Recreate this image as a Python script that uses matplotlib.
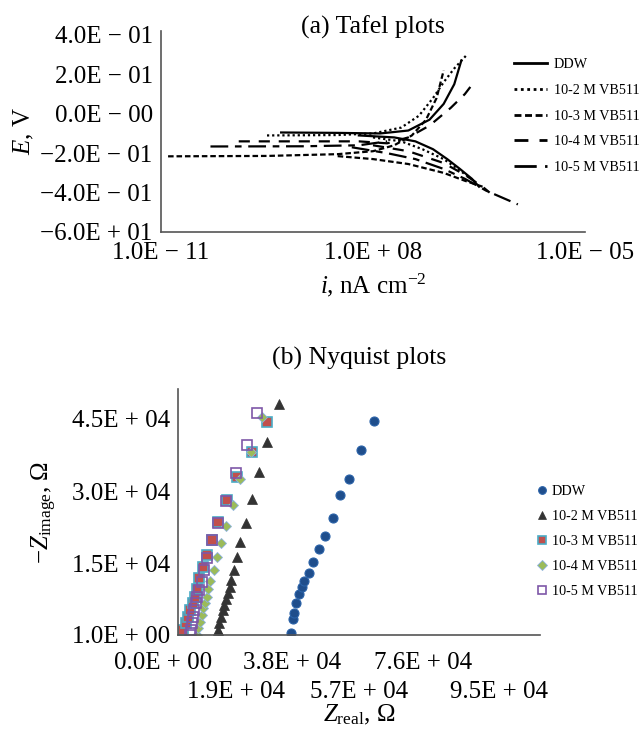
import numpy as np
import matplotlib
matplotlib.use("Agg")
import matplotlib.pyplot as plt
from matplotlib.lines import Line2D
from matplotlib.transforms import ScaledTranslation

plt.rcParams['font.family'] = ['Liberation Serif', 'DejaVu Serif']
plt.rcParams['mathtext.fontset'] = 'custom'
plt.rcParams['mathtext.rm'] = 'Liberation Serif'
plt.rcParams['mathtext.it'] = 'Liberation Serif:italic'

# ---------------- (a) Tafel data: log10(i) and E (V) ----------------
series_names = ["DDW", "10-2 M VB511", "10-3 M VB511", "10-4 M VB511", "10-5 M VB511"]

ddw_an_logi = [-9.3, -8.5, -7.9, -7.5, -7.2, -7.0, -6.85, -6.75]
ddw_an_E = [-0.095, -0.097, -0.100, -0.085, -0.030, 0.050, 0.150, 0.270]
ddw_ca_logi = [-8.2, -7.7, -7.4, -7.15, -6.95, -6.77, -6.6, -6.5]
ddw_ca_E = [-0.110, -0.120, -0.140, -0.180, -0.230, -0.280, -0.330, -0.370]

m2_an_logi = [-9.5, -8.5, -8.0, -7.6, -7.35, -7.15, -7.0, -6.85, -6.67]
m2_an_E = [-0.110, -0.108, -0.100, -0.070, -0.010, 0.080, 0.160, 0.230, 0.300]
m2_ca_logi = [-8.0, -7.6, -7.3, -7.0, -6.8, -6.65]
m2_ca_E = [-0.120, -0.140, -0.180, -0.230, -0.280, -0.320]

m3_an_logi = [-10.9, -9.5, -8.5, -8.0, -7.7, -7.45, -7.25, -7.1, -7.0]
m3_an_E = [-0.216, -0.214, -0.205, -0.190, -0.160, -0.110, -0.030, 0.080, 0.220]
m3_ca_logi = [-8.5, -8.0, -7.5, -7.0, -6.7, -6.45]
m3_ca_E = [-0.215, -0.230, -0.255, -0.300, -0.340, -0.370]

m4_an_logi = [-9.9, -9.0, -8.2, -7.8, -7.5, -7.2, -6.9, -6.7, -6.55]
m4_an_E = [-0.140, -0.140, -0.140, -0.150, -0.120, -0.060, 0.030, 0.100, 0.170]
m4_ca_logi = [-8.0, -7.5, -7.0, -6.7, -6.45, -6.35]
m4_ca_E = [-0.160, -0.190, -0.250, -0.310, -0.370, -0.400]

m5_an_logi = [-10.3, -9.0, -8.2, -7.8]
m5_an_E = [-0.166, -0.165, -0.160, -0.140]
m5_ca_logi = [-8.3, -7.8, -7.4, -7.0, -6.7, -6.4, -5.95]
m5_ca_E = [-0.170, -0.200, -0.230, -0.280, -0.330, -0.390, -0.460]

tafel_xticks = [1e-11, 1e-8, 1e-5]
tafel_xticklabels = ["1.0E \u2212 11", "1.0E + 08", "1.0E \u2212 05"]
tafel_yticks = [0.4, 0.2, 0.0, -0.2, -0.4, -0.6]
tafel_yticklabels = ["4.0E \u2212 01", "2.0E \u2212 01", "0.0E \u2212 00",
                     "\u22122.0E \u2212 01", "\u22124.0E \u2212 01", "\u22126.0E + 01"]

# ---------------- (b) Nyquist data: Z_real, -Z_imag (Ohm) ----------------
ddw_zr = [33240, 33830, 34220, 34810, 35800, 36490, 37170, 38740, 39920, 41690,
          43370, 45630, 47790, 50540, 53890, 57920]
ddw_zi = [480, 3260, 4650, 6730, 8540, 10060, 11310, 12980, 15270, 17850,
          20620, 24310, 29160, 32500, 38540, 44640]

m2_zr = [12390, 11900, 12190, 12590, 13180, 13570, 14160, 14750, 15340, 15640,
         16620, 17310, 18290, 19960, 21930, 23990, 26160, 29890]
m2_zi = [100, 1040, 2430, 3820, 5210, 6250, 7430, 8680, 10060, 11460,
         13540, 16310, 19440, 23400, 28330, 34020, 40270, 48120]

m3_zr = [1090, 1570, 2360, 3050, 3540, 4330, 5020, 5510, 6300, 7280, 8650,
         10030, 11900, 14360, 17500, 21730, 26160]
m3_zi = [100, 1040, 2430, 3820, 5210, 6600, 7990, 9510, 11810, 14240, 16670,
         19790, 23610, 28120, 32850, 38190, 44300]

m4_zr = [5510, 6000, 6490, 6990, 7480, 7970, 8460, 8950, 9440, 10620, 11410,
         12590, 14160, 16320, 18290, 21440, 24680]
m4_zi = [100, 1390, 2780, 4170, 5560, 6600, 7990, 9510, 11310, 13540, 16310,
         19230, 22780, 27080, 32430, 38190, 45480]

m5_zr = [3540, 3740, 4040, 4330, 4720, 5310, 5700, 6300, 6990, 7670, 8650,
         10030, 11900, 14160, 17110, 20260, 23210]
m5_zi = [100, 1040, 2430, 3820, 5210, 6600, 7990, 9370, 11100, 13540, 15970,
         19790, 23400, 27910, 33810, 39580, 46310]

nyq_yticks = [1, 15000, 30000, 45000]
nyq_yticklabels = ["1.0E + 00", "1.5E + 04", "3.0E + 04", "4.5E + 04"]
# tick positions where the (staggered) labels sit in the source chart
nyq_xticks_row1 = [0, 33600, 72300]
nyq_xticklabels_row1 = ["0.0E + 00", "3.8E + 04", "7.6E + 04"]
nyq_xticks_row2 = [17100, 53400, 94700]
nyq_xticklabels_row2 = ["1.9E + 04", "5.7E + 04", "9.5E + 04"]

# ---------------- figure ----------------
W, H = 644, 729
fig = plt.figure(figsize=(W / 100, H / 100), dpi=100)

def fr(x0, y0, x1, y1):
    return [x0 / W, 1 - y1 / H, (x1 - x0) / W, (y1 - y0) / H]

spine_col = "#555555"
tick_fs = 18
title_fs = 18.5
leg_fs = 10.2

# ---- (a)
ax1 = fig.add_axes(fr(161, 31, 585, 232))
lw = 1.6
styles = [
    dict(ls="-"),
    dict(ls=(0, (1, 1.3))),
    dict(ls=(0, (2.5, 1.3))),
    dict(ls=(0, (5, 4))),
    dict(ls=(0, (8, 3, 3, 3))),
]
tafel = [
    (ddw_an_logi, ddw_an_E, ddw_ca_logi, ddw_ca_E),
    (m2_an_logi, m2_an_E, m2_ca_logi, m2_ca_E),
    (m3_an_logi, m3_an_E, m3_ca_logi, m3_ca_E),
    (m4_an_logi, m4_an_E, m4_ca_logi, m4_ca_E),
    (m5_an_logi, m5_an_E, m5_ca_logi, m5_ca_E),
]
handles = []
for name, st, (al, ae, cl, ce) in zip(series_names, styles, tafel):
    ax1.plot(10 ** np.array(al), ae, color="black", lw=lw, **st)
    ax1.plot(10 ** np.array(cl), ce, color="black", lw=lw, **st)
    handles.append(Line2D([], [], color="black", lw=lw + 0.4, **st))

ax1.set_xscale("log")
ax1.set_xlim(1e-11, 1e-5)
ax1.set_ylim(-0.6, 0.42)
ax1.set_xticks(tafel_xticks)
ax1.set_xticklabels(tafel_xticklabels)
ax1.minorticks_off()
ax1.set_yticks(tafel_yticks)
ax1.set_yticklabels(tafel_yticklabels)
ax1.tick_params(length=0, labelsize=tick_fs)
ax1.tick_params(axis="x", pad=7)
ax1.tick_params(axis="y", pad=6)
for s in ["top", "right"]:
    ax1.spines[s].set_visible(False)
for s in ["left", "bottom"]:
    ax1.spines[s].set_color(spine_col)
    ax1.spines[s].set_linewidth(1.2)
fig.text(373 / W, 1 - 27 / H, "(a) Tafel plots", fontsize=title_fs,
         ha="center", va="center")
ax1.set_xlabel(r"$i$, nA cm$^{-2}$", fontsize=tick_fs, labelpad=6)
ax1.set_ylabel(r"$E$, V", fontsize=tick_fs, labelpad=3)

fig.legend(handles, series_names, loc="upper left",
           bbox_to_anchor=(514 / W, 1 - 58 / H), frameon=False,
           fontsize=leg_fs, handlelength=2.3, handletextpad=0.5,
           labelspacing=0.9, borderpad=0, borderaxespad=0)

# ---- (b)
ax2 = fig.add_axes(fr(178, 389, 540, 635))
nyq = [
    (ddw_zr, ddw_zi, dict(marker="o", ms=6.5, mfc="#1F4E8C", mec="#2A62A8", mew=0.8)),
    (m2_zr, m2_zi, dict(marker="^", ms=7, mfc="#333333", mec="#333333", mew=0.5)),
    (m3_zr, m3_zi, dict(marker="s", ms=7, mfc="#C0504D", mec="#4BACC6", mew=1.2)),
    (m4_zr, m4_zi, dict(marker="D", ms=5.5, mfc="#9BBB59", mec="#8DB3E2", mew=0.6)),
    (m5_zr, m5_zi, dict(marker="s", ms=7.5, mfc="none", mec="#7E57A8", mew=1.2)),
]
handles2 = []
for name, (zr, zi, mk) in zip(series_names, nyq):
    ax2.plot(zr, zi, ls="none", **mk)
    hk = dict(mk)
    hk["ms"] = mk["ms"] * 0.85
    handles2.append(Line2D([], [], ls="none", **hk))

ax2.set_xlim(0, 106800)
ax2.set_ylim(0, 51250)
ax2.set_yticks(nyq_yticks)
ax2.set_yticklabels(nyq_yticklabels)
ax2.set_xticks(nyq_xticks_row1)
ax2.set_xticklabels(nyq_xticklabels_row1)
ax2.set_xticks(nyq_xticks_row2, minor=True)
ax2.set_xticklabels(nyq_xticklabels_row2, minor=True)
ax2.tick_params(which="both", length=0, labelsize=tick_fs)
ax2.tick_params(axis="x", which="major", pad=12)
ax2.tick_params(axis="x", which="minor", pad=33)
ax2.tick_params(axis="y", pad=6)
# first label sits left of the axis origin in the source
lab0 = ax2.get_xticklabels()[0]
lab0.set_transform(lab0.get_transform() + ScaledTranslation(-15 / 100, 0, fig.dpi_scale_trans))
for s in ["top", "right"]:
    ax2.spines[s].set_visible(False)
for s in ["left", "bottom"]:
    ax2.spines[s].set_color(spine_col)
    ax2.spines[s].set_linewidth(1.2)
fig.text(359 / W, 1 - 358 / H, "(b) Nyquist plots", fontsize=title_fs,
         ha="center", va="center")
ax2.set_xlabel(r"$Z_{\mathrm{real}}$, $\Omega$", fontsize=tick_fs, labelpad=0)
ax2.set_ylabel(r"$-Z_{\mathrm{image}}$, $\Omega$", fontsize=tick_fs, labelpad=9)

fig.legend(handles2, series_names, loc="upper left",
           bbox_to_anchor=(536 / W, 1 - 485 / H), frameon=False,
           fontsize=leg_fs, handlelength=0.8, handletextpad=0.3,
           labelspacing=0.85, borderpad=0, borderaxespad=0)

fig.savefig("out.png", dpi=100)
